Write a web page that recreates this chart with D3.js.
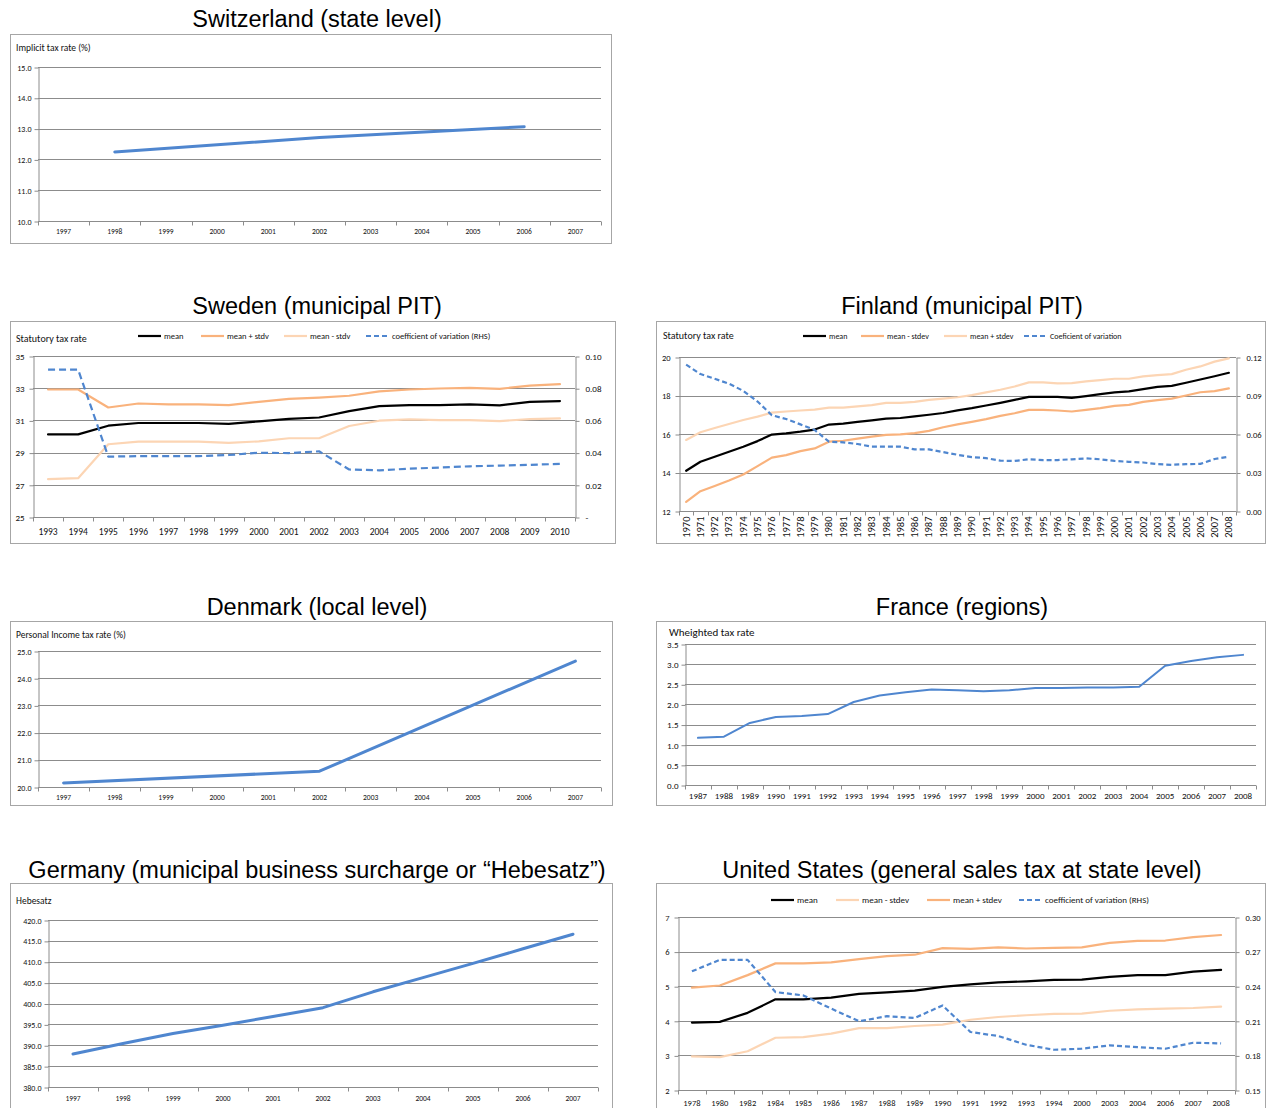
<!DOCTYPE html>
<html>
<head>
<meta charset="utf-8">
<script src="https://cdn.jsdelivr.net/npm/d3@7"></script>
<style>
  html, body { margin: 0; padding: 0; background: #fff; }
  svg { display: block; }
</style>
</head>
<body>
<svg id="chart" width="1266" height="1108"></svg>
<script>
// ---------- data ----------
const swissYears = ["1997","1998","1999","2000","2001","2002","2003","2004","2005","2006","2007"];
const swissImplicitRate = [null, 12.24, null, null, null, 12.71, null, null, null, 13.06, null];

const swedenYears = ["1993","1994","1995","1996","1997","1998","1999","2000","2001","2002","2003","2004","2005","2006","2007","2008","2009","2010"];
const swedenMean     = [30.13,30.13,30.67,30.84,30.84,30.84,30.79,30.94,31.10,31.18,31.58,31.89,31.95,31.95,32.00,31.93,32.15,32.20];
const swedenMeanPlus = [32.92,32.92,31.80,32.05,32.00,32.00,31.95,32.15,32.34,32.42,32.53,32.80,32.92,32.98,33.02,32.96,33.16,33.25];
const swedenMeanMinus= [27.35,27.41,29.52,29.68,29.68,29.68,29.60,29.70,29.89,29.89,30.65,30.98,31.06,31.02,31.02,30.96,31.08,31.12];
const swedenCV       = [0.0915,0.0915,0.0375,0.0378,0.0378,0.0378,0.0385,0.0399,0.0397,0.0408,0.0295,0.0290,0.0300,0.0307,0.0315,0.0319,0.0324,0.0330];

const finlandYears = d3.range(1970, 2009).map(String);
const finlandMean = [14.09,14.56,14.82,15.08,15.34,15.63,15.97,16.03,16.12,16.23,16.49,16.54,16.63,16.71,16.80,16.83,16.92,17.00,17.09,17.23,
                     17.34,17.48,17.62,17.77,17.93,17.93,17.93,17.88,17.97,18.07,18.16,18.21,18.33,18.45,18.50,18.66,18.83,19.00,19.18];
const finlandMeanMinus = [12.47,13.03,13.30,13.58,13.90,14.33,14.77,14.90,15.11,15.25,15.60,15.65,15.76,15.86,15.95,15.98,16.05,16.16,16.35,16.50,
                     16.63,16.77,16.94,17.08,17.25,17.25,17.22,17.17,17.25,17.34,17.46,17.51,17.67,17.76,17.84,18.00,18.17,18.23,18.37];
const finlandMeanPlus = [15.69,16.09,16.31,16.52,16.73,16.90,17.11,17.17,17.22,17.27,17.37,17.37,17.44,17.50,17.62,17.62,17.67,17.77,17.84,17.91,
                     18.02,18.16,18.30,18.47,18.68,18.68,18.63,18.64,18.73,18.80,18.87,18.87,18.99,19.06,19.11,19.34,19.51,19.76,19.93];
const finlandCV = [0.1140,0.1067,0.1030,0.0992,0.0936,0.0853,0.0746,0.0717,0.0675,0.0631,0.0540,0.0535,0.0522,0.0501,0.0501,0.0501,0.0480,0.0480,0.0459,0.0438,
                   0.0420,0.0412,0.0392,0.0390,0.0403,0.0397,0.0397,0.0403,0.0410,0.0403,0.0390,0.0383,0.0378,0.0365,0.0360,0.0365,0.0367,0.0405,0.0423];

const denmarkYears = ["1997","1998","1999","2000","2001","2002","2003","2004","2005","2006","2007"];
const denmarkIncomeRate = [20.15, null, null, null, null, 20.58, null, null, null, null, 24.63];

const franceYears = d3.range(1987, 2009).map(String);
const franceWeightedRate = [1.17,1.20,1.54,1.69,1.71,1.76,2.06,2.22,2.30,2.37,2.35,2.33,2.35,2.41,2.41,2.42,2.42,2.44,2.96,3.08,3.17,3.23];

const germanyYears = ["1997","1998","1999","2000","2001","2002","2003","2004","2005","2006","2007"];
const germanyHebesatz = [387.9,390.4,392.8,394.8,396.9,399.0,402.8,406.2,409.6,413.1,416.6];

const usYears = ["1978","1980","1982","1984","1985","1986","1987","1988","1989","1990","1991","1992","1993","1994","2000","2003","2004","2006","2007","2008"];
const usMean      = [3.95,3.97,4.23,4.62,4.62,4.67,4.78,4.82,4.87,4.98,5.05,5.11,5.14,5.18,5.19,5.27,5.32,5.32,5.42,5.47];
const usMeanMinus = [2.97,2.95,3.12,3.51,3.53,3.63,3.79,3.79,3.85,3.89,4.03,4.11,4.16,4.20,4.21,4.29,4.33,4.35,4.37,4.41];
const usMeanPlus  = [4.96,5.02,5.32,5.66,5.66,5.69,5.78,5.87,5.91,6.10,6.08,6.12,6.09,6.11,6.12,6.25,6.31,6.32,6.42,6.48];
const usCV        = [0.2529,0.2628,0.2628,0.2349,0.2320,0.2206,0.2096,0.2140,0.2125,0.2233,0.2003,0.1968,0.1892,0.1849,0.1858,0.1887,0.1872,0.1858,0.1910,0.1904];

// ---------- styling ----------
const TITLE_FONT = "'Liberation Sans', Arial, sans-serif";
const FONT = "Carlito, Lato, 'Open Sans', sans-serif";
const BLUE = "#4f86cf";
const BLACK = "#000000";
const ORANGE = "#f9b27c";
const LIGHT = "#fcd5b4";
const GRID = "#8c8c8c";

const svg = d3.select("#chart");

function panel(o) {
  const g = svg.append("g");
  // title
  g.append("text").attr("x", o.titleX).attr("y", o.titleY)
    .attr("text-anchor", "middle").attr("font-family", TITLE_FONT)
    .attr("font-size", 23.5).attr("fill", "#000").text(o.title);
  // frame
  g.append("rect").attr("x", o.box[0] + 0.5).attr("y", o.box[1] + 0.5)
    .attr("width", o.box[2]).attr("height", o.box[3])
    .attr("fill", "#fff").attr("stroke", "#a6a6a6").attr("stroke-width", 1);

  const p = o.plot;
  const x = d3.scaleBand().domain(o.cats).range([p.l, p.r]).padding(0);
  const y = d3.scaleLinear().domain(o.yDomain).range([p.b, p.t]);
  const y2 = o.y2Domain ? d3.scaleLinear().domain(o.y2Domain).range([p.b, p.t]) : null;

  // horizontal gridlines
  g.append("g").selectAll("line").data(o.yTicks.filter(v => v !== o.yDomain[0]))
    .join("line")
    .attr("x1", p.l).attr("x2", p.r)
    .attr("y1", d => Math.round(y(d)) + 0.5).attr("y2", d => Math.round(y(d)) + 0.5)
    .attr("stroke", GRID).attr("stroke-width", 1);

  // left axis
  const yAxis = d3.axisLeft(y).tickValues(o.yTicks).tickFormat(o.yFmt).tickSize(4).tickSizeOuter(0);
  const ya = g.append("g").attr("transform", `translate(${p.l + 0.5},0.5)`).call(yAxis);
  ya.select(".domain").attr("stroke", GRID);
  ya.selectAll(".tick line").attr("stroke", GRID);
  ya.selectAll(".tick text").attr("font-family", FONT).attr("font-size", o.yFont)
    .attr("fill", "#111").attr("x", -(o.yPad || 7));

  // right axis
  if (y2) {
    const y2Axis = d3.axisRight(y2).tickValues(o.y2Ticks).tickFormat(o.y2Fmt).tickSize(4).tickSizeOuter(0);
    const yb = g.append("g").attr("transform", `translate(${p.r + 0.5},0.5)`).call(y2Axis);
    yb.select(".domain").attr("stroke", GRID);
    yb.selectAll(".tick line").attr("stroke", GRID);
    yb.selectAll(".tick text").attr("font-family", FONT).attr("font-size", o.yFont)
      .attr("fill", "#111").attr("x", 10);
  }

  // bottom axis: labels centred on categories, ticks on category boundaries
  const xb = g.append("g").attr("transform", `translate(0,${Math.round(p.b) + 0.5})`);
  xb.append("line").attr("x1", p.l).attr("x2", p.r).attr("stroke", GRID);
  const edges = o.cats.map(c => x(c)).concat([p.r]);
  xb.selectAll("line.tk").data(edges).join("line").attr("class", "tk")
    .attr("x1", d => Math.round(d) + 0.5).attr("x2", d => Math.round(d) + 0.5)
    .attr("y1", 0).attr("y2", 4).attr("stroke", GRID);
  const labels = xb.selectAll("text").data(o.cats).join("text")
    .attr("font-family", FONT).attr("font-size", o.xFont).attr("fill", "#111")
    .text(d => d);
  if (o.rotate) {
    labels.attr("text-anchor", "end")
      .attr("transform", d => `translate(${x(d) + x.bandwidth() / 2 + 3.5},${o.xLabelDy}) rotate(-90)`);
  } else {
    labels.attr("text-anchor", "middle")
      .attr("x", d => x(d) + x.bandwidth() / 2).attr("y", o.xLabelDy);
  }

  // axis title
  if (o.axisLabel) {
    g.append("text").attr("x", o.axisLabel[1]).attr("y", o.axisLabel[2])
      .attr("font-family", FONT).attr("font-size", o.axisLabel[3]).attr("fill", "#111")
      .text(o.axisLabel[0]);
  }

  // series
  o.series.forEach(s => {
    const sc = s.right ? y2 : y;
    const pts = o.cats.map((c, i) => [c, s.values[i]]).filter(d => d[1] != null);
    const line = d3.line().x(d => x(d[0]) + x.bandwidth() / 2).y(d => sc(d[1]));
    g.append("path").datum(pts).attr("d", line)
      .attr("fill", "none").attr("stroke", s.color).attr("stroke-width", s.width)
      .attr("stroke-linejoin", "round").attr("stroke-linecap", s.dash ? "butt" : "round")
      .attr("stroke-dasharray", s.dash || null);
  });

  // legend
  if (o.legend) {
    o.legend.forEach(l => {
      const s = o.series[l.idx];
      g.append("line").attr("x1", l.x).attr("x2", l.x + 23)
        .attr("y1", o.legendY).attr("y2", o.legendY)
        .attr("stroke", s.color).attr("stroke-width", s.width)
        .attr("stroke-dasharray", s.dash ? "5,3" : null);
      g.append("text").attr("x", l.x + 26).attr("y", o.legendY + 3)
        .attr("font-family", FONT).attr("font-size", o.legendFont).attr("fill", "#111")
        .text(l.name);
    });
  }
}

const f1 = d3.format(".1f");
const f2 = d3.format(".2f");

// Switzerland
panel({
  title: "Switzerland (state level)", titleX: 317, titleY: 27,
  box: [10, 34, 601, 209],
  plot: { l: 38, r: 601, t: 67, b: 221 },
  cats: swissYears, yDomain: [10, 15], yTicks: [10, 11, 12, 13, 14, 15], yFmt: f1,
  yFont: 8, xFont: 7.5, xLabelDy: 12,
  axisLabel: ["Implicit tax rate (%)", 16, 51, 9.5],
  series: [{ values: swissImplicitRate, color: BLUE, width: 3 }]
});

// Sweden
panel({
  title: "Sweden (municipal PIT)", titleX: 317, titleY: 314,
  box: [10, 321, 605, 222],
  plot: { l: 33, r: 575, t: 356, b: 517 },
  cats: swedenYears, yDomain: [25, 35], yTicks: [25, 27, 29, 31, 33, 35], yFmt: d3.format("d"),
  y2Domain: [0, 0.10], y2Ticks: [0, 0.02, 0.04, 0.06, 0.08, 0.10], y2Fmt: d => d === 0 ? "-" : f2(d),
  yFont: 9, xFont: 9.5, xLabelDy: 17, yPad: 9,
  axisLabel: ["Statutory tax rate", 16, 342, 10],
  series: [
    { values: swedenMean, color: BLACK, width: 2.2 },
    { values: swedenMeanPlus, color: ORANGE, width: 2.2 },
    { values: swedenMeanMinus, color: LIGHT, width: 2.2 },
    { values: swedenCV, color: BLUE, width: 2.2, dash: "7,4", right: true }
  ],
  legendY: 336, legendFont: 8.5,
  legend: [
    { idx: 0, name: "mean", x: 138 },
    { idx: 1, name: "mean + stdv", x: 201 },
    { idx: 2, name: "mean - stdv", x: 284 },
    { idx: 3, name: "coefficient of variation (RHS)", x: 366 }
  ]
});

// Finland
panel({
  title: "Finland (municipal PIT)", titleX: 962, titleY: 314,
  box: [656, 321, 609, 222],
  plot: { l: 679, r: 1236, t: 357, b: 511 },
  cats: finlandYears, yDomain: [12, 20], yTicks: [12, 14, 16, 18, 20], yFmt: d3.format("d"),
  y2Domain: [0, 0.12], y2Ticks: [0, 0.03, 0.06, 0.09, 0.12], y2Fmt: f2,
  yFont: 8.5, xFont: 10.5, xLabelDy: 5, rotate: true, yPad: 9,
  axisLabel: ["Statutory tax rate", 663, 339, 10],
  series: [
    { values: finlandMean, color: BLACK, width: 2.2 },
    { values: finlandMeanMinus, color: ORANGE, width: 2.2 },
    { values: finlandMeanPlus, color: LIGHT, width: 2.2 },
    { values: finlandCV, color: BLUE, width: 2.2, dash: "5,3", right: true }
  ],
  legendY: 336, legendFont: 8,
  legend: [
    { idx: 0, name: "mean", x: 803 },
    { idx: 1, name: "mean - stdev", x: 861 },
    { idx: 2, name: "mean + stdev", x: 944 },
    { idx: 3, name: "Coeficient of variation", x: 1024 }
  ]
});

// Denmark
panel({
  title: "Denmark (local level)", titleX: 317, titleY: 615,
  box: [10, 621, 602, 184],
  plot: { l: 38, r: 601, t: 651, b: 787 },
  cats: denmarkYears, yDomain: [20, 25], yTicks: [20, 21, 22, 23, 24, 25], yFmt: f1,
  yFont: 8, xFont: 7.5, xLabelDy: 12,
  axisLabel: ["Personal Income tax rate (%)", 16, 638, 9.5],
  series: [{ values: denmarkIncomeRate, color: BLUE, width: 3 }]
});

// France
panel({
  title: "France (regions)", titleX: 962, titleY: 615,
  box: [656, 621, 609, 184],
  plot: { l: 685, r: 1256, t: 644, b: 785 },
  cats: franceYears, yDomain: [0, 3.5], yTicks: [0, 0.5, 1, 1.5, 2, 2.5, 3, 3.5], yFmt: f1,
  yFont: 9, xFont: 9, xLabelDy: 13,
  axisLabel: ["Wheighted tax rate", 669, 636, 11],
  series: [{ values: franceWeightedRate, color: BLUE, width: 2 }]
});

// Germany
panel({
  title: "Germany (municipal business surcharge or \u201cHebesatz\u201d)", titleX: 317, titleY: 878,
  box: [10, 883, 602, 232],
  plot: { l: 48, r: 598, t: 920, b: 1087 },
  cats: germanyYears, yDomain: [380, 420], yTicks: [380, 385, 390, 395, 400, 405, 410, 415, 420], yFmt: f1,
  yFont: 8, xFont: 7.5, xLabelDy: 13,
  axisLabel: ["Hebesatz", 16, 904, 9.5],
  series: [{ values: germanyHebesatz, color: BLUE, width: 3 }]
});

// United States
panel({
  title: "United States (general sales tax at state level)", titleX: 962, titleY: 878,
  box: [656, 883, 609, 232],
  plot: { l: 678, r: 1235, t: 917, b: 1090 },
  cats: usYears, yDomain: [2, 7], yTicks: [2, 3, 4, 5, 6, 7], yFmt: d3.format("d"),
  y2Domain: [0.15, 0.30], y2Ticks: [0.15, 0.18, 0.21, 0.24, 0.27, 0.30], y2Fmt: f2,
  yFont: 8.5, xFont: 8.5, xLabelDy: 15, yPad: 9,
  series: [
    { values: usMean, color: BLACK, width: 2.2 },
    { values: usMeanMinus, color: LIGHT, width: 2.2 },
    { values: usMeanPlus, color: ORANGE, width: 2.2 },
    { values: usCV, color: BLUE, width: 2.2, dash: "5,3", right: true }
  ],
  legendY: 900, legendFont: 9,
  legend: [
    { idx: 0, name: "mean", x: 771 },
    { idx: 1, name: "mean - stdev", x: 836 },
    { idx: 2, name: "mean + stdev", x: 927 },
    { idx: 3, name: "coefficient of variation (RHS)", x: 1019 }
  ]
});
</script>
</body>
</html>
